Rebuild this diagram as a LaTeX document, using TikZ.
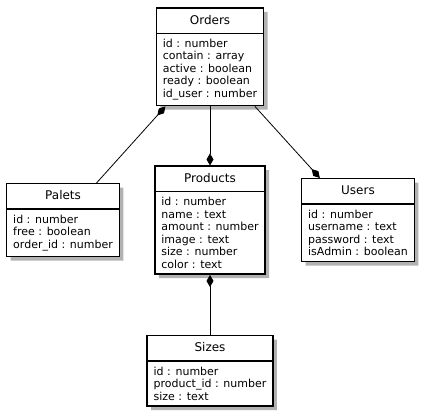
\documentclass[tikz,border=0pt]{standalone}
\usepackage{fontspec}
\setmainfont{DejaVu Sans}
\usetikzlibrary{shapes.multipart,arrows.meta,positioning,shadows}

\newcommand{\etitle}[1]{\rule[-3.5pt]{0pt}{14pt}{\fontsize{12}{14}\selectfont #1}}

\begin{document}
\begin{tikzpicture}[
            node distance=35pt,
            entity/.style={rectangle split, rectangle split parts=2, draw, line width=1.5pt, fill=white,
                align=left, rectangle split part align={center,left}, inner xsep=6.5pt, inner ysep=5pt,
                font=\fontsize{11}{12.5}\selectfont,
                drop shadow={shadow xshift=4pt, shadow yshift=-4pt, fill=black!55, opacity=.55}},
            comp/.style={-{Diamond[length=12pt,width=7pt]}, line width=0.8pt}
        ]
            \useasboundingbox (0,0) rectangle (427pt,-415pt);
            \node[entity, anchor=north] (orders) at (210pt,-7pt) {\etitle{Orders}
                \nodepart{two} id : number\\contain : array\\active : boolean\\ready : boolean\\id\_user : number};
            \node[entity, below=59pt of orders] (products) {\etitle{Products}
                \nodepart{two} id : number\\name : text\\amount : number\\image : text\\size : number\\color : text};
            \node[entity, left=34pt of products] (palets) {\etitle{Palets}
                \nodepart{two} id : number\\free : boolean\\order\_id : number};
            \node[entity, right=of products] (users) {\etitle{Users}
                \nodepart{two} id : number\\username : text\\password : text\\isAdmin : boolean};
            \node[entity, below=60pt of products] (sizes) {\etitle{Sizes}
                \nodepart{two} id : number\\product\_id : number\\size : text};
            
            \draw[comp] (palets) -- (orders);
            \draw[comp] (orders) -- (products);
            \draw[comp] (orders) -- (users);
            \draw[comp] (sizes) -- (products);
        \end{tikzpicture}
\end{document}
